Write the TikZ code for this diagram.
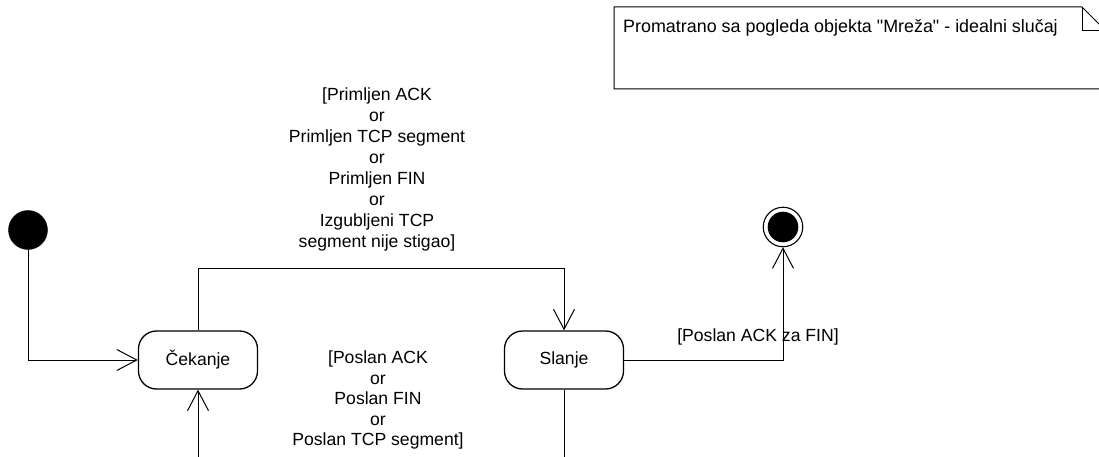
\documentclass[tikz,border=0pt]{standalone}
\usepackage{fontspec}
\setmainfont{Liberation Sans}[Ligatures=TeXOff]
\usetikzlibrary{arrows.meta}
\tikzset{
  statebox/.style={draw, line width=1.3pt, rounded corners=18pt, minimum width=119pt, minimum height=58pt, inner sep=0pt, font=\fontsize{17.6}{21}\selectfont},
  startdot/.style={circle, fill=black, draw=black, minimum size=39pt, inner sep=0pt},
  enddot/.style={circle, draw=black, line width=1.1pt, minimum size=39.5pt, inner sep=0pt,
    path picture={\fill[black] (path picture bounding box.center) circle (15.3pt);}},
  conn/.style={draw=black, line width=1pt},
  arr/.style={conn, -{Straight Barb[length=20pt, width=21pt, line width=1pt]}},
  guard/.style={align=center, inner sep=0pt, font=\fontsize{17.6}{21}\selectfont},
  notetext/.style={anchor=west, inner sep=0pt, font=\fontsize{17.9}{21}\selectfont}
}
\begin{document}
\begin{tikzpicture}[x=1pt, y=-1pt]
\clip (0,0) rectangle (1099,457);
\fill[white] (0,0) rectangle (1099,457);

% note
\draw[line width=1pt] (614,7) -- (1082,7) -- (1106,31) -- (1106,89) -- (614,89) -- cycle;
\draw[line width=1pt] (1082,7) -- (1082,31) -- (1106,31);
\node[notetext] (note) at (623,28) {Promatrano sa pogleda objekta "Mreža" - idealni slučaj};

% states
\node[startdot] (start) at (28,230) {};
\node[statebox] (cek) at (198,360) {Čekanje};
\node[statebox] (sla) at (564,360) {Slanje};
\node[enddot] (fin) at (783,227) {};

% helper coordinates
\coordinate (ttop) at (0,268);
\coordinate (b1) at (198,470);
\coordinate (b2) at (564,470);

% connectors
\draw[arr] (start.south) |- (cek.west);
\draw[arr] (cek.north) -- (cek.north |- ttop) -| (sla.north);
\draw[arr] (sla.east) -| (fin.south);
\draw[conn] (sla.south) -- (b2);
\draw[arr] (b1) -- (cek.south);

% guards
\node[guard] (g1) at (377,169) {[Primljen ACK\\or\\Primljen TCP segment\\or\\Primljen FIN\\or\\Izgubljeni TCP\\segment nije stigao]};
\node[guard, font=\fontsize{17.6}{20.5}\selectfont] (g2) at (378,400) {[Poslan ACK\\or\\Poslan FIN\\or\\Poslan TCP segment]};
\node[guard] (g3) at (758,337) {[Poslan ACK za FIN]};
\end{tikzpicture}
\end{document}
